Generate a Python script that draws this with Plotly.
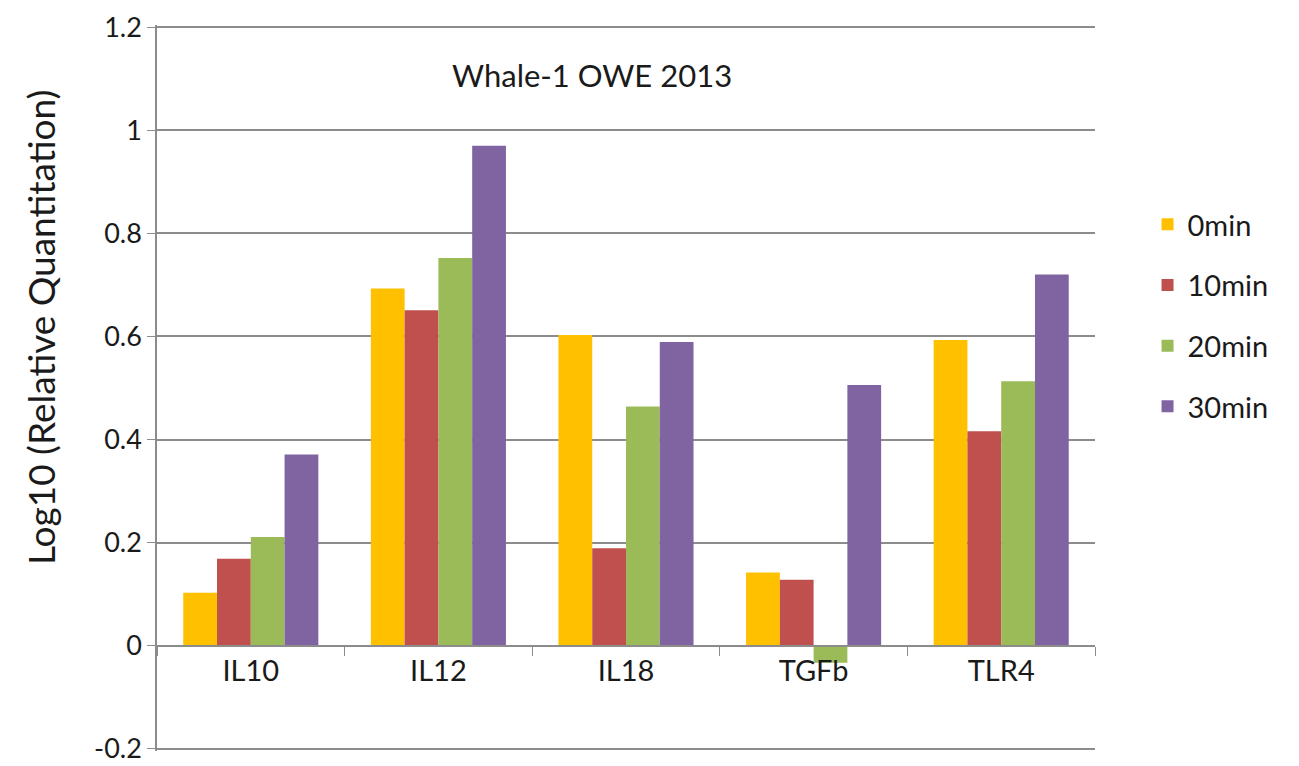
import plotly.graph_objects as go

categories = ["IL10", "IL12", "IL18", "TGFb", "TLR4"]
series_names = ["0min", "10min", "20min", "30min"]
v0 = [0.103, 0.693, 0.603, 0.142, 0.593]
v10 = [0.169, 0.651, 0.189, 0.128, 0.416]
v20 = [0.211, 0.752, 0.464, -0.033, 0.513]
v30 = [0.371, 0.970, 0.589, 0.506, 0.720]
colors = ["#FFC000", "#C0504D", "#9BBB59", "#8064A2"]
ytick_vals = [-0.2, 0, 0.2, 0.4, 0.6, 0.8, 1.0, 1.2]
ytick_text = ["-0.2", "0", "0.2", "0.4", "0.6", "0.8", "1", "1.2"]

FONT = "Lato, Open Sans, sans-serif"
TXT = "#1a1a1a"
fig = go.Figure()
for name, vals, col in zip(series_names, [v0, v10, v20, v30], colors):
    fig.add_trace(go.Bar(x=categories, y=vals, name=name, marker_color=col,
                         marker_line_width=0, legendgroup=name))

ymin, ymax = -0.2, 1.2
eps = 0.004
fig.update_layout(
    width=1299, height=766,
    margin=dict(l=157, r=204, t=25, b=15),
    plot_bgcolor="white", paper_bgcolor="white",
    barmode="group", bargap=0.28, bargroupgap=0,
    font=dict(family=FONT, size=24, color=TXT),
    xaxis=dict(anchor="free", position=(0 - ymin + eps) / (ymax - ymin + 2 * eps),
               automargin=False,
               showline=True, linecolor="#8c8c8c", linewidth=1.5,
               ticks="outside", tickson="boundaries", ticklen=9,
               tickcolor="#8c8c8c", tickfont=dict(size=29, family=FONT, color=TXT),
               showgrid=False),
    yaxis=dict(range=[ymin - eps, ymax + eps], tickvals=ytick_vals, ticktext=ytick_text,
               automargin=False, ticklabeloverflow="allow",
               showgrid=True, gridcolor="#8c8c8c", gridwidth=1.6,
               showline=True, linecolor="#8c8c8c", linewidth=1.5,
               ticks="outside", ticklen=8, tickcolor="#8c8c8c",
               zeroline=False, tickfont=dict(size=27, family=FONT, color=TXT)),
    legend=dict(x=1.056, y=0.60, xanchor="left", yanchor="middle",
                font=dict(size=29, family=FONT, color=TXT), tracegroupgap=20,
                itemwidth=30),
    annotations=[
        dict(text="Whale-1 OWE 2013", x=0.4638, y=0.931, xref="paper",
             yref="paper", showarrow=False, xanchor="center", yanchor="middle",
             font=dict(size=31, family=FONT, color=TXT)),
        dict(text="Log10 (Relative Quantitation)", x=-0.1247, y=0.5826,
             xref="paper", yref="paper", showarrow=False, textangle=-90,
             xanchor="center", yanchor="middle",
             font=dict(size=37, family=FONT, color=TXT)),
    ],
)
fig.write_html("out.html")
